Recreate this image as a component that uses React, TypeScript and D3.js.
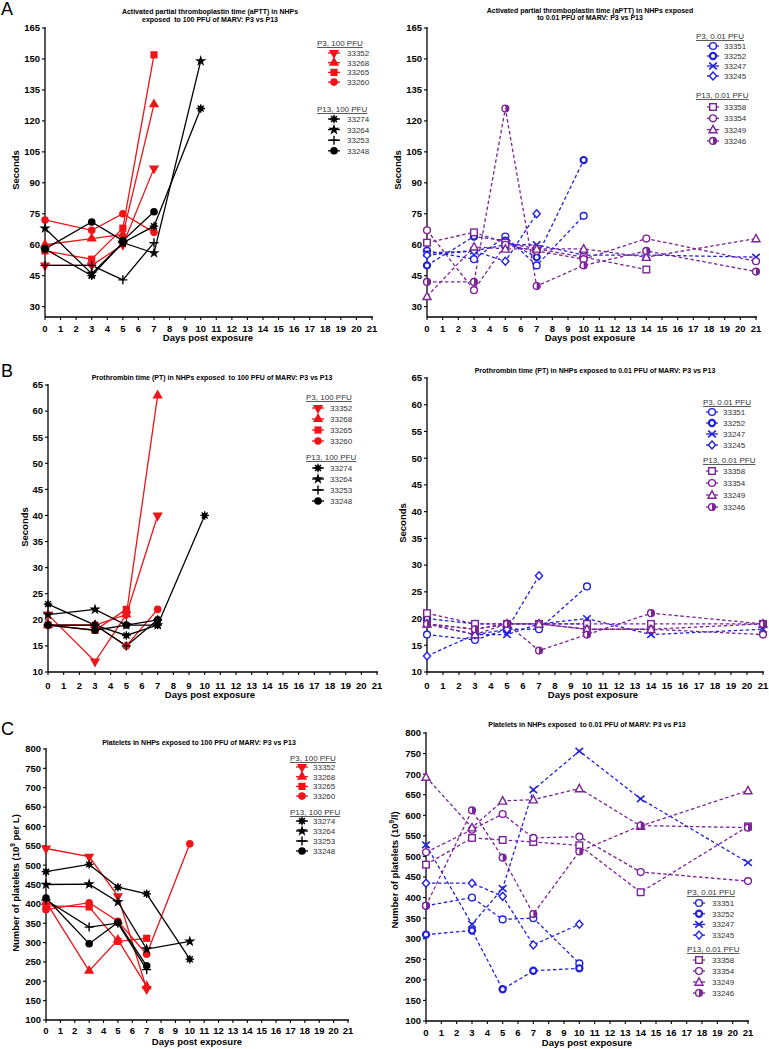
import React from 'react';
import * as d3 from 'd3';

// legend ids per group
const p3High = ['33352', '33268', '33265', '33260'];
const p13High = ['33274', '33264', '33253', '33248'];
const p3Low = ['33351', '33252', '33247', '33245'];
const p13Low = ['33358', '33354', '33249', '33246'];

const dayTicks = [0, 1, 2, 3, 4, 5, 6, 7, 8, 9, 10, 11, 12, 13, 14, 15, 16, 17, 18, 19, 20, 21];
const apttTicks = [30, 45, 60, 75, 90, 105, 120, 135, 150, 165];
const ptTicks = [10, 15, 20, 25, 30, 35, 40, 45, 50, 55, 60, 65];
const pltTicks = [100, 150, 200, 250, 300, 350, 400, 450, 500, 550, 600, 650, 700, 750, 800];

type Series = { id: string; group: string; days: number[]; values: number[] };

// aPTT, 100 PFU
const apttHigh: Series[] = [
  { id: '33352', group: 'p3h', days: [0, 3, 5, 7], values: [50, 50, 60, 97] },
  { id: '33268', group: 'p3h', days: [0, 3, 5, 7], values: [60, 63, 65, 128] },
  { id: '33265', group: 'p3h', days: [0, 3, 5, 7], values: [57, 53, 68, 152] },
  { id: '33260', group: 'p3h', days: [0, 3, 5, 7], values: [72, 67, 75, 66] },
  { id: '33274', group: 'p13h', days: [0, 3, 5, 7, 10], values: [58, 45, 61, 69, 126] },
  { id: '33264', group: 'p13h', days: [0, 3, 5, 7, 10], values: [68, 46, 61, 56, 149] },
  { id: '33253', group: 'p13h', days: [0, 3, 5, 7], values: [50, 50, 43, 61] },
  { id: '33248', group: 'p13h', days: [0, 3, 5, 7], values: [58, 71, 62, 76] },
];

// aPTT, 0.01 PFU
const apttLow: Series[] = [
  { id: '33351', group: 'p3l', days: [0, 3, 5, 7, 10], values: [57, 53, 64, 50, 74] },
  { id: '33252', group: 'p3l', days: [0, 3, 5, 7, 10], values: [50, 64, 62, 54, 101] },
  { id: '33247', group: 'p3l', days: [0, 3, 5, 7, 10, 14, 21], values: [56, 57, 60, 60, 55, 55, 54] },
  { id: '33245', group: 'p3l', days: [0, 3, 5, 7], values: [55, 57, 52, 75] },
  { id: '33358', group: 'p13l', days: [0, 3, 5, 7, 10, 14], values: [61, 66, 61, 58, 54, 48] },
  { id: '33354', group: 'p13l', days: [0, 3, 5, 7, 10, 14, 21], values: [67, 38, 60, 57, 53, 63, 52] },
  { id: '33249', group: 'p13l', days: [0, 3, 5, 7, 10, 14, 21], values: [35, 59, 58, 58, 58, 54, 63] },
  { id: '33246', group: 'p13l', days: [0, 3, 5, 7, 10, 14, 21], values: [42, 42, 126, 40, 50, 57, 47] },
];

// PT, 100 PFU
const ptHigh: Series[] = [
  { id: '33352', group: 'p3h', days: [0, 3, 5, 7], values: [21, 12, 21, 40] },
  { id: '33268', group: 'p3h', days: [0, 3, 5, 7], values: [19, 19, 21, 63] },
  { id: '33265', group: 'p3h', days: [0, 3, 5], values: [19, 18, 22] },
  { id: '33260', group: 'p3h', days: [0, 3, 5, 7], values: [19, 19, 15, 22] },
  { id: '33274', group: 'p13h', days: [0, 3, 5, 7, 10], values: [23, 19, 17, 19, 40] },
  { id: '33264', group: 'p13h', days: [0, 3, 5, 7], values: [21, 22, 19, 19] },
  { id: '33253', group: 'p13h', days: [0, 3, 5, 7], values: [19, 19, 15, 20] },
  { id: '33248', group: 'p13h', days: [0, 3, 5, 7], values: [19, 18, 19, 20] },
];

// PT, 0.01 PFU
const ptLow: Series[] = [
  { id: '33351', group: 'p3l', days: [0, 3, 5, 7, 10], values: [17, 16, 18, 18, 26] },
  { id: '33252', group: 'p3l', days: [0, 3, 5, 7, 10], values: [20, 19, 19, 19, 19] },
  { id: '33247', group: 'p3l', days: [0, 3, 5, 7, 10, 14, 21], values: [19, 17, 17, 19, 20, 17, 18] },
  { id: '33245', group: 'p3l', days: [0, 3, 5, 7], values: [13, 17, 18, 28] },
  { id: '33358', group: 'p13l', days: [0, 3, 5, 7, 10, 14, 21], values: [21, 19, 19, 19, 19, 19, 19] },
  { id: '33354', group: 'p13l', days: [0, 3, 5, 7, 10, 14, 21], values: [19, 18, 19, 19, 18, 18, 17] },
  { id: '33249', group: 'p13l', days: [0, 3, 5, 7, 10, 14, 21], values: [19, 17, 19, 19, 18, 18, 19] },
  { id: '33246', group: 'p13l', days: [0, 3, 5, 7, 10, 14, 21], values: [19, 18, 19, 14, 17, 21, 19] },
];

// platelets, 100 PFU
const pltHigh: Series[] = [
  { id: '33352', group: 'p3h', days: [0, 3, 5, 7], values: [543, 522, 420, 180] },
  { id: '33268', group: 'p3h', days: [0, 3, 5, 7], values: [405, 227, 307, 187] },
  { id: '33265', group: 'p3h', days: [0, 3, 5, 7], values: [395, 392, 303, 311] },
  { id: '33260', group: 'p3h', days: [0, 3, 5, 7, 10], values: [385, 403, 355, 270, 555] },
  { id: '33274', group: 'p13h', days: [0, 3, 5, 7, 10], values: [483, 502, 443, 426, 257] },
  { id: '33264', group: 'p13h', days: [0, 3, 5, 7, 10], values: [450, 451, 405, 283, 303] },
  { id: '33253', group: 'p13h', days: [0, 3, 5, 7], values: [410, 340, 350, 230] },
  { id: '33248', group: 'p13h', days: [0, 3, 5, 7], values: [415, 297, 352, 240] },
];

// platelets, 0.01 PFU
const pltLow: Series[] = [
  { id: '33351', group: 'p3l', days: [0, 3, 5, 7, 10], values: [380, 400, 347, 350, 240] },
  { id: '33252', group: 'p3l', days: [0, 3, 5, 7, 10], values: [310, 320, 177, 222, 228] },
  { id: '33247', group: 'p3l', days: [0, 3, 5, 7, 10, 14, 21], values: [528, 335, 422, 662, 756, 640, 485] },
  { id: '33245', group: 'p3l', days: [0, 3, 5, 7, 10], values: [435, 435, 403, 285, 335] },
  { id: '33358', group: 'p13l', days: [0, 3, 5, 7, 10, 14, 21], values: [480, 545, 540, 535, 527, 413, 573] },
  { id: '33354', group: 'p13l', days: [0, 3, 5, 7, 10, 14, 21], values: [510, 565, 603, 545, 548, 462, 440] },
  { id: '33249', group: 'p13l', days: [0, 3, 5, 7, 10, 14, 21], values: [693, 570, 635, 638, 665, 574, 660] },
  { id: '33246', group: 'p13l', days: [0, 3, 5, 7, 10, 14, 21], values: [380, 612, 497, 360, 512, 575, 570] },
];

const COLORS: Record<string, string> = { p3h: '#f01418', p13h: '#000000', p3l: '#2121dc', p13l: '#7c2497' };
const FONT = 'Liberation Sans, Arial, Helvetica, sans-serif';

const sym = (type: d3.SymbolType, size: number) => d3.symbol().type(type).size(size)() as string;

function Marker({ id, x, y, color }: { id: string; x: number; y: number; color: string }) {
  const t = `translate(${x},${y})`;
  switch (id) {
    case '33352':
      return <path transform={`${t} rotate(180)`} d={sym(d3.symbolTriangle, 46)} fill={color} />;
    case '33268':
      return <path transform={t} d={sym(d3.symbolTriangle, 46)} fill={color} />;
    case '33265':
      return <rect x={x - 3.6} y={y - 3.6} width={7.2} height={7.2} fill={color} />;
    case '33260':
    case '33248':
      return <circle cx={x} cy={y} r={3.8} fill={color} />;
    case '33274':
      return (
        <g transform={t} stroke={color} strokeWidth={1.3}>
          <circle r={2.7} fill={color} stroke="none" />
          <path d="M-4.3,0H4.3M0,-4.3V4.3M-3,-3L3,3M-3,3L3,-3" />
        </g>
      );
    case '33264':
      return <path transform={t} d={sym(d3.symbolStar, 40)} fill={color} />;
    case '33253':
      return <path transform={t} d="M-4.5,0H4.5M0,-4.5V4.5" stroke={color} strokeWidth={1.4} fill="none" />;
    case '33351':
    case '33354':
      return <circle cx={x} cy={y} r={3.4} fill="#fff" stroke={color} strokeWidth={1.4} />;
    case '33252':
      return <circle cx={x} cy={y} r={3.1} fill="#fff" stroke={color} strokeWidth={2.2} />;
    case '33247':
      return <path transform={t} d="M-3.8,-3.3L3.8,3.3M-3.8,3.3L3.8,-3.3" stroke={color} strokeWidth={1.6} fill="none" />;
    case '33245':
      return <path transform={t} d="M0,-4L3.6,0L0,4L-3.6,0Z" fill="#fff" stroke={color} strokeWidth={1.4} />;
    case '33358':
      return <rect x={x - 3.3} y={y - 3.3} width={6.6} height={6.6} fill="#fff" stroke={color} strokeWidth={1.4} />;
    case '33249':
      return <path transform={t} d="M0,-4.2L4,3.2L-4,3.2Z" fill="#fff" stroke={color} strokeWidth={1.4} />;
    case '33246':
      return (
        <g transform={t}>
          <circle r={3.4} fill="#fff" stroke={color} strokeWidth={1.4} />
          <path d="M0,-3.4A3.4,3.4 0 0 1 0,3.4Z" fill={color} />
        </g>
      );
    default:
      return null;
  }
}

type Legend = {
  hx: number; sx: number; tx: number;
  h1: number; o1: number; s1: number;
  h2: number; o2: number; s2: number;
  labels: [string, string]; groups: [string, string]; ids: [string[], string[]];
};

type PanelCfg = {
  series: Series[]; yTicks: number[]; yDomain: [number, number];
  x0: number; x21: number; yTop: number; yBot: number; dashed: boolean;
  title: string[]; titleX: number; titleY: number[];
  yLabel: React.ReactNode; yLabelX: number; yLabelY: number;
  xLabelX: number; xLabelY: number; xTickY: number;
  letter?: string; letterY?: number;
  legend: Legend;
};

const highLegend = {
  labels: ['P3, 100 PFU', 'P13, 100 PFU'] as [string, string],
  groups: ['p3h', 'p13h'] as [string, string],
  ids: [p3High, p13High] as [string[], string[]],
};
const lowLegend = {
  labels: ['P3, 0.01 PFU', 'P13, 0.01 PFU'] as [string, string],
  groups: ['p3l', 'p13l'] as [string, string],
  ids: [p3Low, p13Low] as [string[], string[]],
};

const pltLabel = (unit: string) => (
  <>
    Number of platelets (10<tspan fontSize={6.5} dy={-4}>9</tspan><tspan dy={4}>{unit})</tspan>
  </>
);

const panels: PanelCfg[] = [
  {
    series: apttHigh, yTicks: apttTicks, yDomain: [25, 165], x0: 45, x21: 372, yTop: 28, yBot: 317, dashed: false,
    title: ['Activated partial thromboplastin time (aPTT) in NHPs', 'exposed  to 100 PFU of MARV: P3 vs P13'],
    titleX: 210, titleY: [13.5, 21.5], yLabel: 'Seconds', yLabelX: 15, yLabelY: 170,
    xLabelX: 208, xLabelY: 341, xTickY: 331.5, letter: 'A', letterY: 15,
    legend: { hx: 317, sx: 334, tx: 347, h1: 43, o1: 10, s1: 9.7, h2: 109, o2: 10, s2: 10.6, ...highLegend },
  },
  {
    series: apttLow, yTicks: apttTicks, yDomain: [25, 165], x0: 427, x21: 756, yTop: 28, yBot: 317, dashed: true,
    title: ['Activated partial thromboplastin time (aPTT) in NHPs exposed', 'to 0.01 PFU of MARV: P3 vs P13'],
    titleX: 590, titleY: [13, 19.5], yLabel: 'Seconds', yLabelX: 397, yLabelY: 170,
    xLabelX: 590, xLabelY: 341, xTickY: 331.5,
    legend: { hx: 696, sx: 713, tx: 724, h1: 36, o1: 10, s1: 10, h2: 95, o2: 12, s2: 11.3, ...lowLegend },
  },
  {
    series: ptHigh, yTicks: ptTicks, yDomain: [10, 65], x0: 48, x21: 377, yTop: 385, yBot: 672, dashed: false,
    title: ['Prothrombin time (PT) in NHPs exposed  to 100 PFU of MARV: P3 vs P13'],
    titleX: 212, titleY: [379.5], yLabel: 'Seconds', yLabelX: 24, yLabelY: 527,
    xLabelX: 210, xLabelY: 698, xTickY: 688.5, letter: 'B', letterY: 377,
    legend: { hx: 306, sx: 318, tx: 330, h1: 397, o1: 11, s1: 11, h2: 457, o2: 11, s2: 11, ...highLegend },
  },
  {
    series: ptLow, yTicks: ptTicks, yDomain: [10, 65], x0: 427, x21: 763, yTop: 378, yBot: 672, dashed: true,
    title: ['Prothrombin time (PT) in NHPs exposed to 0.01 PFU of MARV: P3 vs P13'],
    titleX: 595, titleY: [372.5], yLabel: 'Seconds', yLabelX: 402, yLabelY: 523,
    xLabelX: 593, xLabelY: 698, xTickY: 688.5,
    legend: { hx: 703, sx: 712, tx: 723, h1: 402, o1: 10, s1: 11, h2: 460, o2: 11, s2: 12, ...lowLegend },
  },
  {
    series: pltHigh, yTicks: pltTicks, yDomain: [100, 800], x0: 46, x21: 348, yTop: 749, yBot: 1020, dashed: false,
    title: ['Platelets in NHPs exposed to 100 PFU of MARV: P3 vs P13'],
    titleX: 199, titleY: [744.5], yLabel: pltLabel(' per L'), yLabelX: 15, yLabelY: 883,
    xLabelX: 197, xLabelY: 1045, xTickY: 1033.5, letter: 'C', letterY: 735,
    legend: { hx: 290, sx: 302, tx: 313, h1: 758, o1: 9, s1: 9.7, h2: 812, o2: 9, s2: 10, ...highLegend },
  },
  {
    series: pltLow, yTicks: pltTicks, yDomain: [100, 800], x0: 426, x21: 748, yTop: 733, yBot: 1021, dashed: true,
    title: ['Platelets in NHPs exposed  to 0.01 PFU of MARV: P3 vs P13'],
    titleX: 587, titleY: [726.5], yLabel: pltLabel('/l'), yLabelX: 394, yLabelY: 870,
    xLabelX: 587, xLabelY: 1046, xTickY: 1035.5,
    legend: { hx: 687, sx: 699, tx: 712, h1: 892, o1: 11, s1: 10.7, h2: 949, o2: 11, s2: 11, ...lowLegend },
  },
];

function Panel({ cfg }: { cfg: PanelCfg }) {
  const x = d3.scaleLinear().domain([0, 21]).range([cfg.x0, cfg.x21]);
  const y = d3.scaleLinear().domain(cfg.yDomain).range([cfg.yBot, cfg.yTop]);
  const line = d3.line<[number, number]>().x(d => x(d[0])).y(d => y(d[1]));
  const lg = cfg.legend;

  return (
    <g fontFamily={FONT}>
      {cfg.letter && (
        <text x={1} y={cfg.letterY} fontSize={18}>{cfg.letter}</text>
      )}
      {cfg.title.map((t, i) => (
        <text key={i} x={cfg.titleX} y={cfg.titleY[i]} fontSize={7} fontWeight="bold" textAnchor="middle" style={{ whiteSpace: 'pre' }}>{t}</text>
      ))}

      {/* axes */}
      <line x1={cfg.x0} x2={cfg.x0} y1={cfg.yBot} y2={cfg.yTop - 1} stroke="#000" strokeWidth={1.3} />
      <line x1={cfg.x0} x2={cfg.x21 + 1} y1={cfg.yBot} y2={cfg.yBot} stroke="#000" strokeWidth={1.3} />
      {cfg.yTicks.map(t => (
        <g key={t}>
          <line x1={cfg.x0 - 3} x2={cfg.x0} y1={y(t)} y2={y(t)} stroke="#000" strokeWidth={1.1} />
          <text x={cfg.x0 - 5} y={y(t) + 3.4} fontSize={9.5} fontWeight="bold" textAnchor="end">{t}</text>
        </g>
      ))}
      {dayTicks.map(t => (
        <g key={t}>
          <line x1={x(t)} x2={x(t)} y1={cfg.yBot} y2={cfg.yBot + 3} stroke="#000" strokeWidth={1.1} />
          <text x={x(t)} y={cfg.xTickY} fontSize={9.5} fontWeight="bold" textAnchor="middle">{t}</text>
        </g>
      ))}
      <text x={cfg.xLabelX} y={cfg.xLabelY} fontSize={9.5} fontWeight="bold" textAnchor="middle">Days post exposure</text>
      <text transform={`translate(${cfg.yLabelX},${cfg.yLabelY}) rotate(-90)`} fontSize={9.5} fontWeight="bold" textAnchor="middle" dy={3.5}>{cfg.yLabel}</text>

      {/* series */}
      {cfg.series.map(s => {
        const pts = s.days.map((d, i) => [d, s.values[i]] as [number, number]);
        const c = COLORS[s.group];
        return (
          <g key={s.id}>
            <path d={line(pts) as string} fill="none" stroke={c} strokeWidth={1.3} strokeDasharray={cfg.dashed ? '3.5,2.5' : undefined} />
          </g>
        );
      })}
      {cfg.series.map(s => {
        const c = COLORS[s.group];
        return (
          <g key={s.id + 'm'}>
            {s.days.map((d, i) => (
              <Marker key={i} id={s.id} x={x(d)} y={y(s.values[i])} color={c} />
            ))}
          </g>
        );
      })}

      {/* legend */}
      {[0, 1].map(g => {
        const hy = g === 0 ? lg.h1 : lg.h2;
        const off = g === 0 ? lg.o1 : lg.o2;
        const step = g === 0 ? lg.s1 : lg.s2;
        const c = COLORS[lg.groups[g]];
        return (
          <g key={g}>
            <text x={lg.hx} y={hy + 3} fontSize={8} fill="#333" style={{ textDecoration: 'underline' }}>{lg.labels[g]}</text>
            {lg.ids[g].map((id, i) => {
              const iy = hy + off + i * step;
              return (
                <g key={id}>
                  <line x1={lg.sx - 6} x2={lg.sx + 6} y1={iy} y2={iy} stroke={c} strokeWidth={1.3} />
                  <Marker id={id} x={lg.sx} y={iy} color={c} />
                  <text x={lg.tx} y={iy + 3} fontSize={8} fill="#333">{id}</text>
                </g>
              );
            })}
          </g>
        );
      })}
    </g>
  );
}

export default function App() {
  return (
    <svg width={769} height={1049} style={{ position: 'absolute', left: 0, top: 0, background: '#fff' }}>
      {panels.map((p, i) => <Panel key={i} cfg={p} />)}
    </svg>
  );
}
